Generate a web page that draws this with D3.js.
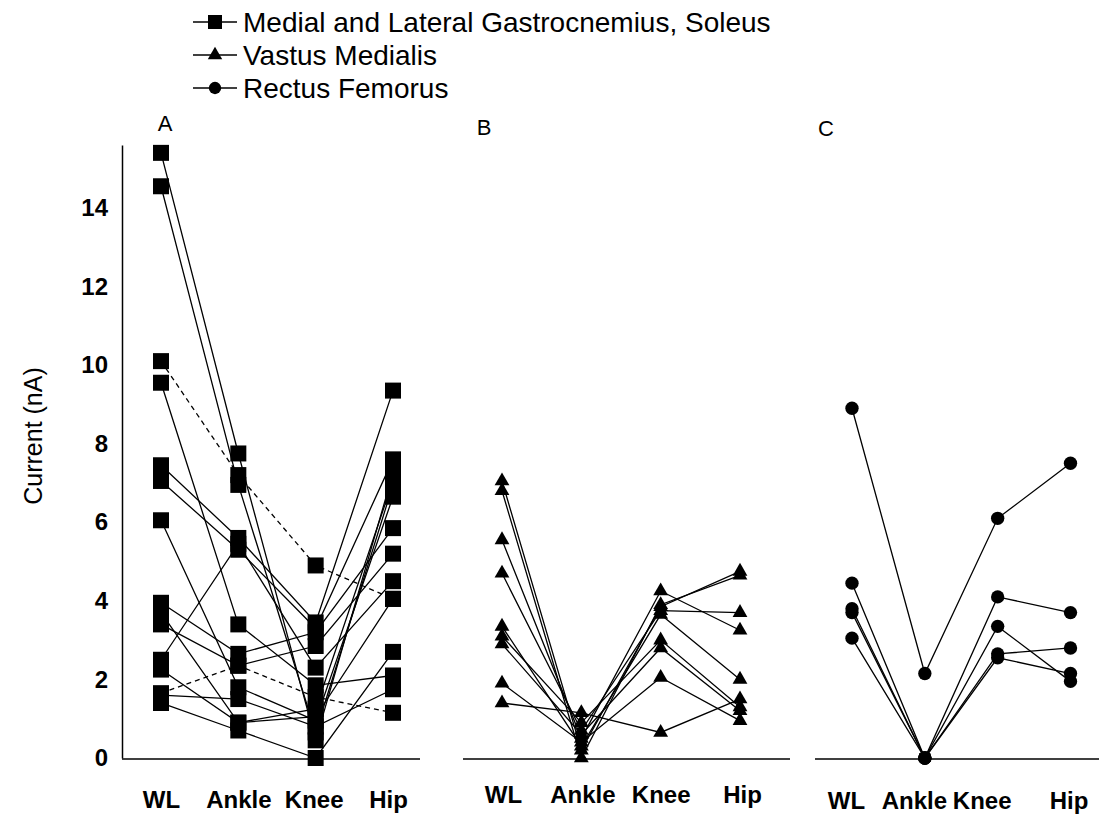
<!DOCTYPE html>
<html>
<head>
<meta charset="utf-8">
<script src="https://cdn.jsdelivr.net/npm/d3@7"></script>
<style>
  body { margin: 0; background: #fff; }
  svg { display: block; }
  text { font-family: "Liberation Sans", Arial, sans-serif; fill: #000; }
</style>
</head>
<body>
<svg id="chart" width="1099" height="822"></svg>
<script>
// ---- data -------------------------------------------------------------
const joints = ["WL", "Ankle", "Knee", "Hip"];
const yTicks = [0, 2, 4, 6, 8, 10, 12, 14];
const legendLabels = ["Medial and Lateral Gastrocnemius, Soleus", "Vastus Medialis", "Rectus Femorus"];
const panelTitles = ["A", "B", "C"];

// Panel A: gastrocnemius / soleus, one row per motoneuron [WL, Ankle, Knee, Hip]
const gastrocSoleus = [
  [15.4, 7.75, 0.45, 7.25],
  [14.55, 6.95, 0.65, 6.95],
  [9.55, 3.4, 1.85, 2.1],
  [7.45, 5.6, 3.45, 9.35],
  [7.05, 5.3, 3.3, 7.6],
  [6.05, 1.8, 0.95, 6.65],
  [3.95, 2.65, 3.2, 5.85],
  [3.7, 0.9, 1.25, 7.05],
  [3.4, 2.35, 2.85, 5.2],
  [2.5, 5.45, 2.3, 4.5],
  [2.25, 0.9, 1.05, 4.05],
  [1.6, 1.5, 0.8, 1.75],
  [1.4, 0.7, 0.0, 2.7]
];
// Panel A cells drawn with dashed lines
const gastrocSoleusDashed = [
  [10.1, 7.2, 4.9, 4.05],
  [1.65, 2.35, 1.55, 1.15]
];

// Panel B: vastus medialis
const vastusMedialis = [
  [7.05, 0.2, 3.85, 4.75],
  [6.8, 0.0, 3.9, 4.65],
  [5.55, 0.5, 4.25, 3.25],
  [4.7, 0.7, 3.75, 3.7],
  [3.35, 0.3, 3.65, 2.0],
  [3.1, 0.9, 3.0, 1.3],
  [2.9, 0.6, 2.8, 1.2],
  [1.9, 0.4, 2.05, 0.95],
  [1.4, 1.15, 0.65, 1.5]
];

// Panel C: rectus femoris
const rectusFemoris = [
  [8.9, 2.15, 6.1, 7.5],
  [4.45, 0.0, 4.1, 3.7],
  [3.8, 0.0, 3.35, 1.95],
  [3.7, 0.0, 2.65, 2.8],
  [3.05, 0.0, 2.55, 2.15]
];

// ---- layout -----------------------------------------------------------
const svg = d3.select("#chart");
svg.append("rect").attr("width", 1099).attr("height", 822).attr("fill", "#fff");

const y = d3.scaleLinear().domain([0, 15.6]).range([758, 145]);

const symSquare = d3.symbol().type(d3.symbolSquare).size(256)();
const symTriangle = d3.symbol().type(d3.symbolTriangle).size(95)();
const symCircle = d3.symbol().type(d3.symbolCircle).size(140)();

const panels = [
  { title: panelTitles[0], titleX: 165, titleY: 123, xRange: [161, 393], base: [122, 420], labelY: 805, labelDx: [0, 0, -2, -5],
    sets: [{ rows: gastrocSoleus, dash: null }, { rows: gastrocSoleusDashed, dash: "5,4" }], marker: symSquare },
  { title: panelTitles[1], titleX: 484, titleY: 127, xRange: [502, 740], base: [463, 790], labelY: 800, labelDx: [1, 1, 0, 2],
    sets: [{ rows: vastusMedialis, dash: null }], marker: symTriangle },
  { title: panelTitles[2], titleX: 826, titleY: 128, xRange: [852, 1070.5], base: [815, 1099], labelY: 806, labelDx: [-6, -11, -16, -2],
    sets: [{ rows: rectusFemoris, dash: null }], marker: symCircle }
];

// ---- y axis -----------------------------------------------------------
const yAxis = svg.append("g")
  .attr("transform", "translate(122,0)")
  .call(d3.axisLeft(y).tickValues(yTicks).tickSize(0).tickSizeOuter(0).tickPadding(14));
yAxis.select(".domain").attr("stroke", "#000").attr("stroke-width", 1.5);
yAxis.selectAll("text")
  .style("font-size", "24px").style("font-weight", "bold")
  .attr("font-family", null);

svg.append("text")
  .attr("transform", "translate(33,436) rotate(-90)")
  .attr("text-anchor", "middle")
  .attr("dominant-baseline", "central")
  .style("font-size", "25px")
  .text("Current (nA)");

// ---- panels -----------------------------------------------------------
panels.forEach(p => {
  const x = d3.scalePoint().domain(joints).range(p.xRange);
  const g = svg.append("g");

  // baseline
  g.append("line")
    .attr("x1", p.base[0]).attr("x2", p.base[1])
    .attr("y1", y(0) + 1).attr("y2", y(0) + 1)
    .attr("stroke", "#000").attr("stroke-width", 1.5);

  // joint labels
  const xa = g.append("g")
    .attr("transform", `translate(0,${p.labelY - 14})`)
    .call(d3.axisBottom(x).tickSize(0).tickPadding(0));
  xa.select(".domain").remove();
  xa.selectAll("text")
    .attr("font-family", null)
    .style("font-size", "24px").style("font-weight", "bold")
    .attr("dy", "0.71em")
    .attr("dx", (d, i) => p.labelDx[i]);

  // panel title
  g.append("text")
    .attr("x", p.titleX).attr("y", p.titleY)
    .attr("text-anchor", "middle").attr("dominant-baseline", "central")
    .style("font-size", "22px")
    .text(p.title);

  const line = d3.line().x((d, i) => x(joints[i])).y(d => y(d));

  p.sets.forEach(s => {
    g.append("g").selectAll("path")
      .data(s.rows).join("path")
      .attr("d", line)
      .attr("fill", "none")
      .attr("stroke", "#000")
      .attr("stroke-width", 1.3)
      .attr("stroke-dasharray", s.dash);
  });

  p.sets.forEach(s => {
    const pts = s.rows.flatMap(r => r.map((v, i) => ({ j: joints[i], v })));
    g.append("g").selectAll("path")
      .data(pts).join("path")
      .attr("d", p.marker)
      .attr("transform", d => `translate(${x(d.j)},${y(d.v)})`)
      .attr("fill", "#000");
  });
});

// ---- legend -----------------------------------------------------------
const legendMarkers = [
  d3.symbol().type(d3.symbolSquare).size(196)(),
  d3.symbol().type(d3.symbolTriangle).size(90)(),
  d3.symbol().type(d3.symbolCircle).size(120)()
];
const legend = svg.append("g");
const rows = legend.selectAll("g").data(legendLabels).join("g")
  .attr("transform", (d, i) => `translate(0,${22 + i * 33})`);
rows.append("line").attr("x1", 193).attr("x2", 237).attr("stroke", "#000").attr("stroke-width", 1.5);
rows.append("path").attr("d", (d, i) => legendMarkers[i]).attr("transform", "translate(215,0)").attr("fill", "#000");
rows.append("text")
  .attr("x", 243).attr("dominant-baseline", "central")
  .style("font-size", "28px")
  .text(d => d);
</script>
</body>
</html>
